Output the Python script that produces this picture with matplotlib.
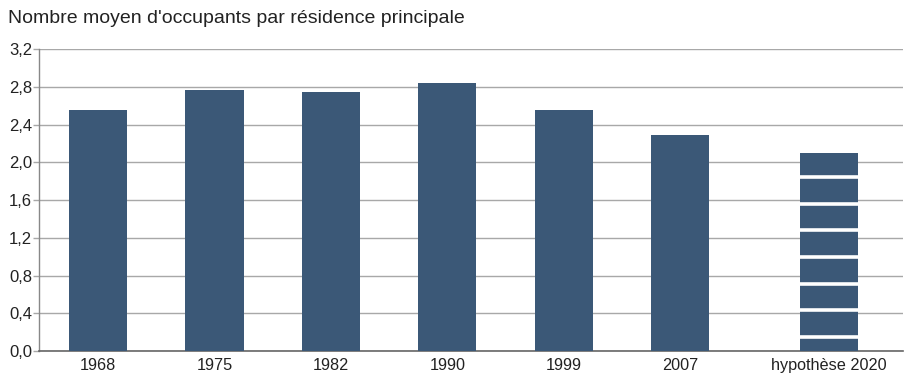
import numpy as np
import matplotlib
matplotlib.use('Agg')
import matplotlib.pyplot as plt

plt.rcParams['font.family'] = ['Liberation Sans', 'DejaVu Sans']

# data
categories = ['1968', '1975', '1982', '1990', '1999', '2007', 'hypothèse 2020']
values = [2.55, 2.77, 2.75, 2.84, 2.55, 2.29, 2.10]
yticks = [0.0, 0.4, 0.8, 1.2, 1.6, 2.0, 2.4, 2.8, 3.2]
title = "Nombre moyen d'occupants par résidence principale"

bar_color = '#3b5877'
grid_color = '#a8a8a8'

fig = plt.figure(figsize=(9.06, 3.76), dpi=100)
ax = fig.add_axes([0.043, 0.0665, 0.954, 0.803])

x = np.arange(len(categories), dtype=float)
x[-1] += 0.28  # hypothesis bar set a bit apart
ax.bar(x, values, width=0.5, color=bar_color, zorder=3)

# white stripes on the hypothesis bar
stripes = np.arange(values[-1] - 0.256, 0.1, -0.2825)
ax.hlines(stripes, x[-1] - 0.25, x[-1] + 0.25, colors='white', linewidth=2.6, zorder=4)

ax.set_xlim(-0.507, 6.916)
ax.set_ylim(0, 3.2)
ax.set_yticks(yticks)
ax.set_yticklabels([('%.1f' % v).replace('.', ',') for v in yticks], fontsize=12, color='#222222')
ax.set_xticks(x)
ax.set_xticklabels(categories, fontsize=11.7, color='#222222')
ax.tick_params(axis='x', length=0, pad=5)
ax.tick_params(axis='y', length=4, width=1, color=grid_color, pad=1)

ax.grid(axis='y', color=grid_color, linewidth=1, zorder=0)
for s in ['top', 'right']:
    ax.spines[s].set_visible(False)
ax.spines['left'].set_color('#888888')
ax.spines['bottom'].set_color('#666666')
ax.spines['left'].set_linewidth(1)
ax.spines['bottom'].set_linewidth(1.2)

fig.text(0.009, 0.952, title, fontsize=14, color='#222222', ha='left', va='center')

fig.savefig('out.png', dpi=100)
